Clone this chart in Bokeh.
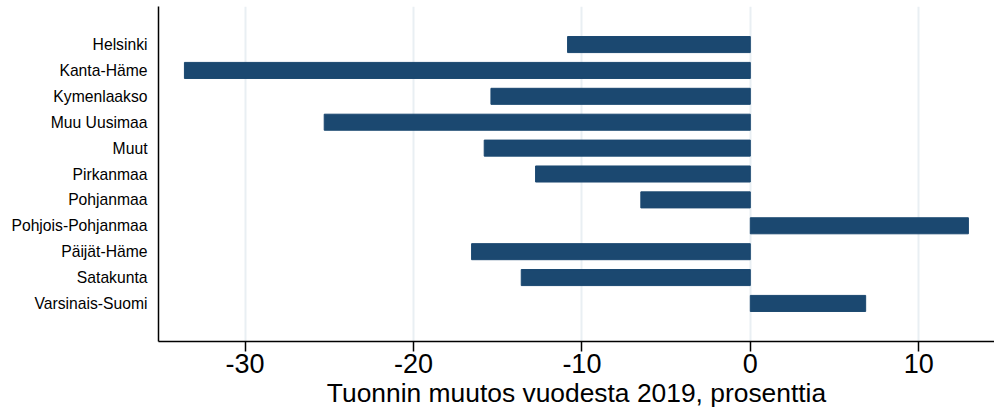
from bokeh.plotting import figure
from bokeh.models import FactorRange, Range1d, FixedTicker
from bokeh.embed import file_html
from bokeh.resources import INLINE

regions = ["Helsinki", "Kanta-Häme", "Kymenlaakso", "Muu Uusimaa", "Muut",
           "Pirkanmaa", "Pohjanmaa", "Pohjois-Pohjanmaa", "Päijät-Häme",
           "Satakunta", "Varsinais-Suomi"]
change = [-10.85, -33.6, -15.4, -25.3, -15.8, -12.75, -6.5, 12.95, -16.55, -13.6, 6.85]
x_ticks = [-30, -20, -10, 0, 10]
x_tick_labels = ["-30", "-20", "-10", "0", "10"]
x_title = "Tuonnin muutos vuodesta 2019, prosenttia"

FONT = "Liberation Sans"
BAR = "#1b4870"

p = figure(width=994, height=410, output_backend="svg", toolbar_location=None,
           y_range=FactorRange(factors=list(reversed(regions)),
                               range_padding=0.97, range_padding_units="absolute"),
           x_range=Range1d(-35.14, 14.5),
           min_border_left=158, min_border_right=0, min_border_top=6, min_border_bottom=0)

p.hbar(y=regions, right=change, left=0, height=0.62, color=BAR)

p.outline_line_color = None
p.background_fill_color = "white"
p.border_fill_color = "white"

p.ygrid.grid_line_color = None
p.xgrid.grid_line_color = "#e9eff3"
p.xgrid.grid_line_width = 2
p.xaxis.ticker = FixedTicker(ticks=x_ticks)
p.xaxis.major_label_overrides = dict(zip(x_ticks, x_tick_labels))

p.xaxis.axis_label = x_title
p.xaxis.axis_label_text_font = FONT
p.xaxis.axis_label_text_font_size = "26.4px"
p.xaxis.axis_label_text_font_style = "normal"
p.xaxis.axis_label_text_color = "black"
p.xaxis.axis_label_standoff = 2
p.xaxis.major_label_text_font = FONT
p.xaxis.major_label_text_font_size = "27px"
p.xaxis.major_label_text_color = "black"
p.xaxis.major_label_standoff = 2
p.xaxis.major_tick_out = 10
p.xaxis.major_tick_in = 0
p.xaxis.major_tick_line_width = 1.5
p.xaxis.minor_tick_line_color = None
p.xaxis.axis_line_width = 1.5
p.xaxis.axis_line_color = "black"
p.xaxis.major_tick_line_color = "black"

p.yaxis.major_label_text_font = FONT
p.yaxis.major_label_text_font_size = "15.7px"
p.yaxis.major_label_text_color = "black"
p.yaxis.major_tick_line_color = None
p.yaxis.major_tick_out = 0
p.yaxis.major_tick_in = 0
p.yaxis.minor_tick_line_color = None
p.yaxis.major_label_standoff = 11
p.yaxis.axis_line_width = 1.5
p.yaxis.axis_line_color = "black"

open("out.html", "w").write(file_html(p, INLINE))
